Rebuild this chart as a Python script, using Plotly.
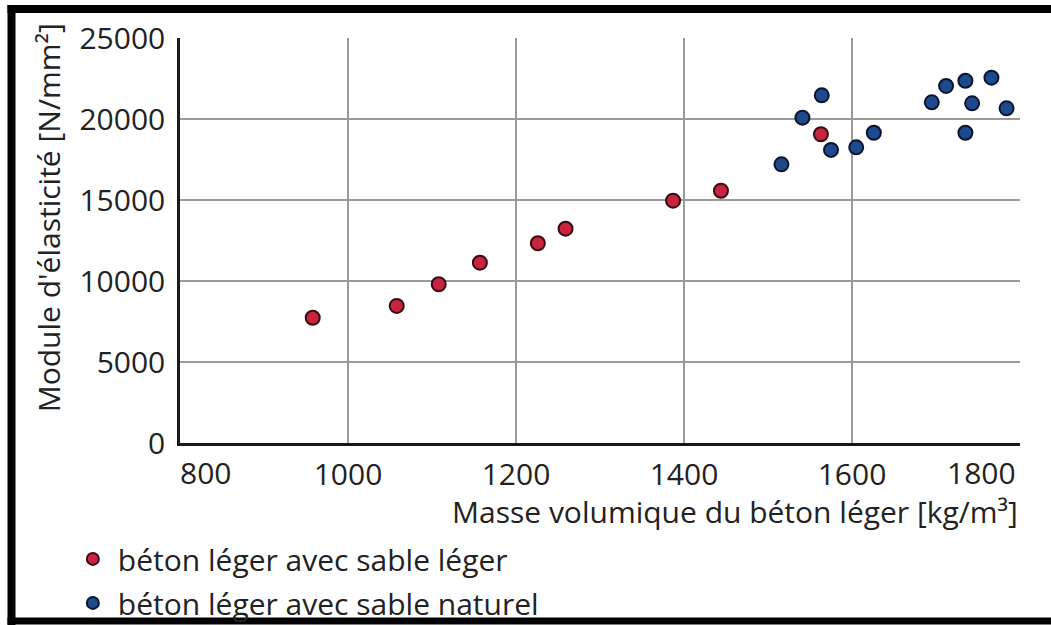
import plotly.graph_objects as go

# ---- data ----
leger_x = [958, 1058, 1108, 1157, 1226, 1259, 1387, 1444, 1563]
leger_y = [7730, 8460, 9800, 11130, 12330, 13230, 14960, 15570, 19060]

naturel_x = [1516, 1541, 1564, 1575, 1605, 1626, 1695, 1712, 1735, 1743, 1735, 1766, 1784]
naturel_y = [17200, 20080, 21460, 18090, 18250, 19150, 21030, 22040, 22360, 20970, 19150, 22550, 20660]

series_names = ["béton léger avec sable léger", "béton léger avec sable naturel"]

x_tick_vals = [800, 1000, 1200, 1400, 1600, 1800]
# first and last labels are drawn edge-aligned (as in the reference) by annotations below
x_tick_text = ["", "1000", "1200", "1400", "1600", ""]
x_first_label = "800"
x_last_label = "1800"
y_tick_vals = [0, 5000, 10000, 15000, 20000, 25000]
y_tick_text = ["0", "5000", "10000", "15000", "20000", "25000"]

x_title = "Masse volumique du béton léger [kg/m³]"
y_title = "Module d'élasticité [N/mm²]"

FONT = "Open Sans"
FS = 30
TXT = "#222222"
GRID = "#9a9a9a"

fig = go.Figure()
fig.add_trace(go.Scatter(
    x=leger_x, y=leger_y, mode="markers", name=series_names[0],
    legendgroup="a",
    marker=dict(size=14, color="#c8243f", line=dict(color="#3a0a12", width=2)),
))
fig.add_trace(go.Scatter(
    x=naturel_x, y=naturel_y, mode="markers", name=series_names[1],
    legendgroup="b",
    marker=dict(size=14, color="#1c4a8c", line=dict(color="#0a1530", width=2)),
))

fig.update_layout(
    width=1051, height=625, autosize=False,
    margin=dict(l=180, r=31, t=38, b=182, autoexpand=False),
    paper_bgcolor="white", plot_bgcolor="white",
    font=dict(family=FONT, size=FS, color=TXT),
    showlegend=True,
    legend=dict(
        x=-0.1335, y=-0.222, xanchor="left", yanchor="top",
        orientation="v", tracegroupgap=2, itemwidth=40,
        font=dict(family=FONT, size=FS, color=TXT),
        bgcolor="rgba(0,0,0,0)", itemsizing="constant",
    ),
    xaxis=dict(
        range=[800, 1800], tickvals=x_tick_vals, ticktext=x_tick_text,
        showgrid=True, gridcolor=GRID, gridwidth=1.5,
        showline=True, linecolor="#1a1a1a", linewidth=2.5,
        zeroline=False, ticks="", ticklabelstandoff=3,
        tickfont=dict(family=FONT, size=FS, color=TXT),
    ),
    yaxis=dict(
        range=[0, 25000], tickvals=y_tick_vals, ticktext=y_tick_text,
        showgrid=True, gridcolor=GRID, gridwidth=1.5,
        showline=True, linecolor="#1a1a1a", linewidth=2.5,
        zeroline=False, ticks="", ticklabelstandoff=6,
        tickfont=dict(family=FONT, size=FS, color=TXT),
    ),
)

# edge-aligned first/last x tick labels, as in the reference
fig.add_annotation(
    x=800, xref="x", y=-0.072, yref="paper",
    text=x_first_label, showarrow=False, xanchor="left", yanchor="middle",
    xshift=-2, font=dict(family=FONT, size=FS, color=TXT),
)
fig.add_annotation(
    x=1800, xref="x", y=-0.072, yref="paper",
    text=x_last_label, showarrow=False, xanchor="right", yanchor="middle",
    xshift=-2, font=dict(family=FONT, size=FS, color=TXT),
)
# x-axis title (right-aligned)
fig.add_annotation(
    x=1.0, xref="paper", y=-0.170, yref="paper",
    text=x_title, showarrow=False, xanchor="right", yanchor="middle",
    xshift=0, font=dict(family=FONT, size=FS, color=TXT),
)
# y-axis title
fig.add_annotation(
    x=-0.157, xref="paper", y=0.555, yref="paper",
    text=y_title, textangle=-90, showarrow=False, xanchor="center", yanchor="middle",
    font=dict(family=FONT, size=FS, color=TXT),
)

# black picture frame (top, left, bottom)
def px_x(p):
    return (p - 180) / 840.0

def px_y(p):
    return (443 - p) / 405.0

frame = dict(color="black", width=8)
fig.add_shape(type="line", xref="paper", yref="paper",
              x0=px_x(7.5), x1=px_x(1051), y0=px_y(9), y1=px_y(9), line=frame)
fig.add_shape(type="line", xref="paper", yref="paper",
              x0=px_x(11.5), x1=px_x(11.5), y0=px_y(5), y1=px_y(625), line=frame)
fig.add_shape(type="line", xref="paper", yref="paper",
              x0=px_x(7.5), x1=px_x(1051), y0=px_y(621), y1=px_y(621),
              line=dict(color="black", width=7))

fig.write_html("out.html")
